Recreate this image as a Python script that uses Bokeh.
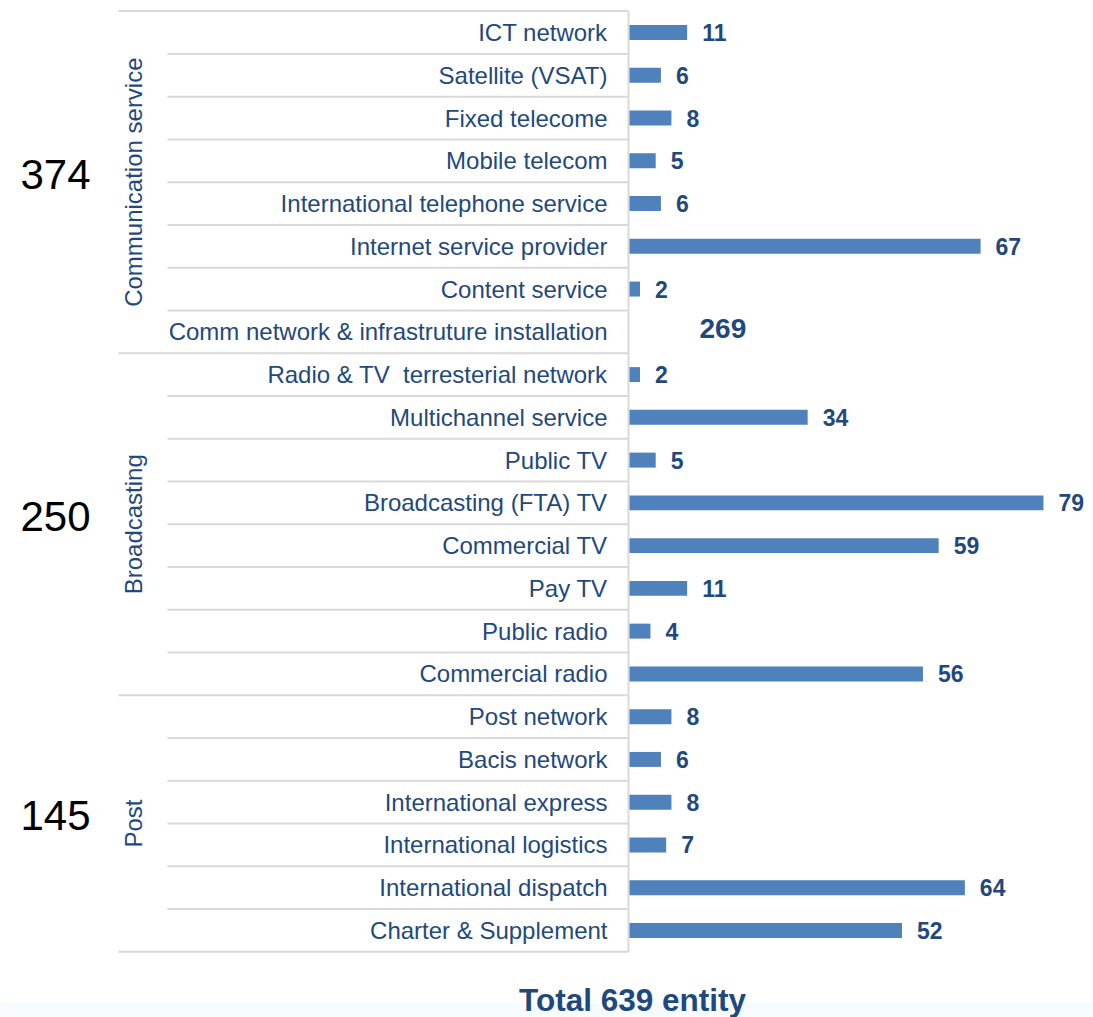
from bokeh.plotting import figure
from bokeh.models import Range1d, ColumnDataSource
from bokeh.core.properties import value
from bokeh.embed import file_html
from bokeh.resources import INLINE

groups = ["Communication service", "Broadcasting", "Post"]
group_totals = [374, 250, 145]
group_sizes = [8, 8, 6]
categories = [
    "ICT network", "Satellite (VSAT)", "Fixed telecome", "Mobile telecom",
    "International telephone service", "Internet service provider", "Content service",
    "Comm network & infrastruture installation",
    "Radio & TV\u00a0 terresterial network", "Multichannel service", "Public TV",
    "Broadcasting (FTA) TV", "Commercial TV", "Pay TV", "Public radio", "Commercial radio",
    "Post network", "Bacis network", "International express", "International logistics",
    "International dispatch", "Charter & Supplement",
]
values = [11, 6, 8, 5, 6, 67, 2, 269,
          2, 34, 5, 79, 59, 11, 4, 56,
          8, 6, 8, 7, 64, 52]
total_label = "Total 639 entity"

W, H = 1093, 1017
PXU = 5.24          # pixels per unit
X0 = 629            # pixel of value 0
ROW = 42.76         # pixels per row
Y0 = 32             # pixel of row 0 center
XMAX = (W - X0) / PXU

def px2x(px):
    return (px - X0) / PXU

def py2y(py):
    return (py - Y0) / ROW

p = figure(width=W, height=H, output_backend="svg", toolbar_location=None,
           x_range=Range1d(px2x(0), px2x(W)), y_range=Range1d(py2y(H), py2y(0)),
           min_border=0)
p.axis.visible = False
p.grid.visible = False
p.outline_line_color = None
p.background_fill_color = "white"

n = len(categories)
rows = list(range(n))
FONT = value("Liberation Sans")
TXT = "#1F497D"
GRID = "#D9D9D9"

# faint bottom band
p.quad(left=[px2x(0)], right=[px2x(W)], bottom=[py2y(H)], top=[py2y(1002)],
       fill_color="#F5FBFE", line_color=None)

# row separators
group_starts = [sum(group_sizes[:k]) for k in range(len(group_sizes))]
x_short = px2x(167)
x_long = px2x(118)
x_axis = px2x(628)
sep_y, sep_x0 = [], []
for b in range(n + 1):
    sep_y.append(b - 0.5)
    sep_x0.append(x_long if (b in group_starts or b == n) else x_short)
p.segment(x0=sep_x0, x1=[x_axis] * len(sep_y), y0=sep_y, y1=sep_y,
          line_color=GRID, line_width=2)
p.segment(x0=[x_axis], x1=[x_axis], y0=[-0.5], y1=[n - 0.5], line_color=GRID, line_width=2)

# bars (values beyond the axis range are not drawn)
in_range = [v <= XMAX for v in values]
bar_src = ColumnDataSource(dict(
    y=[r for r, ok in zip(rows, in_range) if ok],
    right=[v for v, ok in zip(values, in_range) if ok],
))
p.hbar(y="y", left=0, right="right", height=0.35, source=bar_src,
       fill_color="#4F81BD", line_color=None)

# category labels
p.text(x=[0] * n, y=rows, text=categories, x_offset=-22, text_align="right",
       text_baseline="middle", text_font=FONT, text_font_size="24px", text_color=TXT)

# value labels
lab_src = ColumnDataSource(dict(
    x=[v for v, ok in zip(values, in_range) if ok],
    y=[r for r, ok in zip(rows, in_range) if ok],
    t=[str(v) for v, ok in zip(values, in_range) if ok],
))
p.text(x="x", y="y", text="t", source=lab_src, x_offset=15, text_align="left",
       text_baseline="middle", text_font=FONT, text_font_size="23px",
       text_font_style="bold", text_color=TXT)
big_rows = [r for r, ok in zip(rows, in_range) if not ok]
p.text(x=[0] * len(big_rows), y=big_rows,
       text=[str(values[r]) for r in big_rows], x_offset=70, y_offset=-3,
       text_align="left", text_baseline="middle", text_font=FONT,
       text_font_size="28px", text_font_style="bold", text_color=TXT)

# group labels and totals
centers = [s + (sz - 1) / 2 for s, sz in zip(group_starts, group_sizes)]
p.text(x=[px2x(133)] * len(groups), y=centers, text=groups, angle=1.5707963,
       text_align="center", text_baseline="middle", text_font=FONT,
       text_font_size="24px", text_color=TXT)
p.text(x=[px2x(55)] * len(groups), y=centers, text=[str(t) for t in group_totals],
       y_offset=-8, text_align="center", text_baseline="middle", text_font=FONT,
       text_font_size="42px", text_color="black")

# total
p.text(x=[px2x(632)], y=[py2y(999)], text=[total_label], text_align="center",
       text_baseline="middle", text_font=FONT, text_font_size="31.5px",
       text_font_style="bold", text_color=TXT)

open("out.html", "w").write(file_html(p, INLINE))
